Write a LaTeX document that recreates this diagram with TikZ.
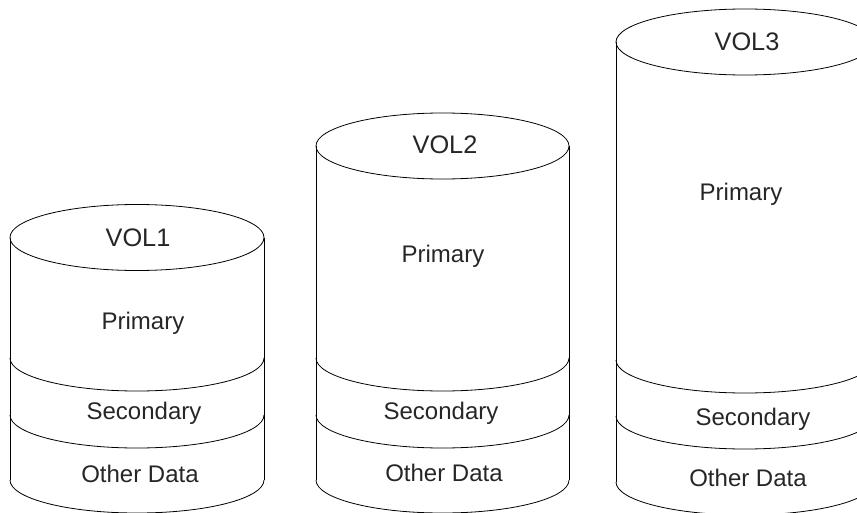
\documentclass[tikz,border=0pt]{standalone}
\usepackage{fontspec}
\setmainfont{Liberation Sans}
\usepackage{tikz}

\begin{document}
\begin{tikzpicture}[x=0.75pt,y=0.75pt,line width=0.6pt,
  lbl/.style={inner sep=0pt,text height=0.716em,text depth=0pt,text=black!85,font=\fontsize{18}{20}\selectfont},
  vol/.style={inner sep=0pt,text height=0.716em,text depth=0pt,text=black!85,font=\fontsize{19}{22}\selectfont}]
\useasboundingbox (0,0) rectangle (857,512);
\clip (0,0) rectangle (857,512);
% VOL1
  \draw (137,274.5) ellipse [x radius=127, y radius=33];
  \draw (10,274.5) -- (10,32);
  \draw (264,274.5) -- (264,32);
  \draw (10,154) arc[start angle=180, end angle=360, x radius=127, y radius=33];
  \draw (10,97) arc[start angle=180, end angle=360, x radius=127, y radius=33];
  \draw (10,32) arc[start angle=180, end angle=360, x radius=127, y radius=33];
  \node[vol] (v1) at (138,270.5) {VOL1};
  \node[lbl] (v1p) at (143,187.5) {Primary};
  \node[lbl] (v1s) at (144,97) {Secondary};
  \node[lbl] (v1o) at (140,34) {Other Data};
% VOL2
  \draw (442.5,366) ellipse [x radius=126.5, y radius=33];
  \draw (316,366) -- (316,32);
  \draw (569,366) -- (569,32);
  \draw (316,154) arc[start angle=180, end angle=360, x radius=126.5, y radius=33];
  \draw (316,97) arc[start angle=180, end angle=360, x radius=126.5, y radius=33];
  \draw (316,32) arc[start angle=180, end angle=360, x radius=126.5, y radius=33];
  \node[vol] (v2) at (445,363.5) {VOL2};
  \node[lbl] (v2p) at (443,254.5) {Primary};
  \node[lbl] (v2s) at (441,97) {Secondary};
  \node[lbl] (v2o) at (444,35) {Other Data};
% VOL3
  \draw (745,470) ellipse [x radius=129, y radius=33];
  \draw (616,470) -- (616,30);
  \draw (874,470) -- (874,30);
  \draw (616,152) arc[start angle=180, end angle=360, x radius=129, y radius=33];
  \draw (616,96) arc[start angle=180, end angle=360, x radius=129, y radius=33];
  \draw (616,30) arc[start angle=180, end angle=360, x radius=129, y radius=33];
  \node[vol] (v3) at (747,466.5) {VOL3};
  \node[lbl] (v3p) at (741,316.5) {Primary};
  \node[lbl] (v3s) at (753,91) {Secondary};
  \node[lbl] (v3o) at (748,30) {Other Data};
\end{tikzpicture}
\end{document}
